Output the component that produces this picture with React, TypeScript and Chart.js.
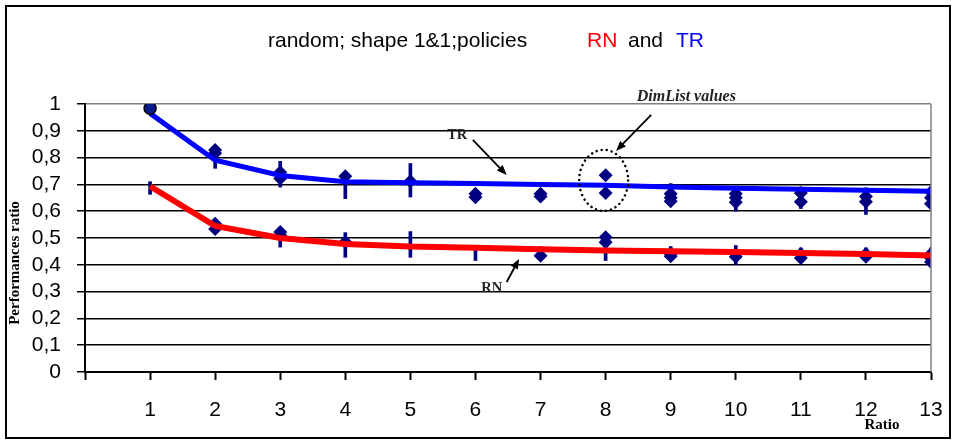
import React, { useEffect, useRef } from 'react';
import { Chart, registerables } from 'chart.js';

Chart.register(...registerables);

// ---- data ----
const ratios = [1, 2, 3, 4, 5, 6, 7, 8, 9, 10, 11, 12, 13];
const trCurve = [0.965, 0.79, 0.733, 0.71, 0.706, 0.703, 0.7, 0.697, 0.69, 0.686, 0.682, 0.678, 0.674];
const rnCurve = [0.693, 0.545, 0.5, 0.478, 0.468, 0.464, 0.458, 0.453, 0.451, 0.448, 0.444, 0.44, 0.435];

const trStart = [[1, 0.984]];
const trDiamonds = [
  [2, 0.828], [2, 0.816], [3, 0.745], [3, 0.722], [4, 0.73], [5, 0.712],
  [6, 0.665], [6, 0.652], [7, 0.665], [7, 0.655], [8, 0.734], [8, 0.668],
  [9, 0.665], [9, 0.65], [9, 0.637], [10, 0.665], [10, 0.65], [10, 0.633],
  [11, 0.668], [11, 0.635], [12, 0.655], [12, 0.635], [13, 0.672], [13, 0.65], [13, 0.628],
];
const rnDiamonds = [
  [2, 0.553], [2, 0.534], [3, 0.522], [3, 0.51], [4, 0.485], [7, 0.434],
  [8, 0.503], [8, 0.484], [9, 0.44], [9, 0.432], [10, 0.44], [10, 0.43],
  [11, 0.44], [11, 0.425], [12, 0.44], [12, 0.43], [13, 0.44], [13, 0.425], [13, 0.41],
];
// value ranges (low, high) shown as vertical dashes
const trRanges = [
  [2, 0.76, 0.8], [3, 0.69, 0.786], [4, 0.647, 0.73], [5, 0.653, 0.778],
  [9, 0.64, 0.703], [10, 0.6, 0.685], [11, 0.61, 0.69], [12, 0.588, 0.687], [13, 0.62, 0.69],
];
const rnRanges = [
  [1, 0.663, 0.71], [3, 0.466, 0.503], [4, 0.428, 0.52], [5, 0.428, 0.524],
  [6, 0.416, 0.466], [7, 0.434, 0.468], [8, 0.416, 0.484], [9, 0.43, 0.468],
  [10, 0.4, 0.472], [11, 0.42, 0.463], [12, 0.42, 0.463], [13, 0.41, 0.463],
];
const yTicks = [0, 0.1, 0.2, 0.3, 0.4, 0.5, 0.6, 0.7, 0.8, 0.9, 1];

const titleMain = 'random; shape 1&1;policies';
const titleRN = 'RN';
const titleAnd = 'and';
const titleTR = 'TR';
const yTitle = 'Performances ratio';
const xTitle = 'Ratio';
const noteDim = 'DimList values';
const noteTR = 'TR';
const noteRN = 'RN';

const NAVY = '#000080';

const pts = (arr: number[][]) => arr.map(([x, y]) => ({ x, y }));
const rng = (arr: number[][]) => arr.map(([x, lo, hi]) => ({ x, y: [lo, hi] }));

function drawArrow(ctx: CanvasRenderingContext2D, x1: number, y1: number, x2: number, y2: number) {
  const ang = Math.atan2(y2 - y1, x2 - x1);
  const hl = 10, hw = 4;
  ctx.save();
  ctx.strokeStyle = '#000';
  ctx.fillStyle = '#000';
  ctx.lineWidth = 1.8;
  ctx.beginPath();
  ctx.moveTo(x1, y1);
  ctx.lineTo(x2 - Math.cos(ang) * hl * 0.8, y2 - Math.sin(ang) * hl * 0.8);
  ctx.stroke();
  ctx.beginPath();
  ctx.moveTo(x2, y2);
  ctx.lineTo(x2 - Math.cos(ang) * hl + Math.sin(ang) * hw, y2 - Math.sin(ang) * hl - Math.cos(ang) * hw);
  ctx.lineTo(x2 - Math.cos(ang) * hl - Math.sin(ang) * hw, y2 - Math.sin(ang) * hl + Math.cos(ang) * hw);
  ctx.closePath();
  ctx.fill();
  ctx.restore();
}

const decorPlugin = {
  id: 'decor',
  afterDraw(chart: any) {
    const ctx: CanvasRenderingContext2D = chart.ctx;
    const xs = chart.scales.x;
    const ys = chart.scales.y;
    const ca = chart.chartArea;
    const px = (v: number) => xs.getPixelForValue(v);
    const py = (v: number) => ys.getPixelForValue(v);
    ctx.save();
    // outer frame
    ctx.strokeStyle = '#000';
    ctx.lineWidth = 2;
    ctx.strokeRect(6, 6, 944, 432);
    // right plot border
    ctx.strokeStyle = '#808080';
    ctx.lineWidth = 1.5;
    ctx.beginPath();
    ctx.moveTo(ca.right, ca.top);
    ctx.lineTo(ca.right, ca.bottom);
    ctx.stroke();

    // title
    ctx.textBaseline = 'middle';
    ctx.textAlign = 'left';
    ctx.font = '21px "Liberation Sans", Arial, sans-serif';
    ctx.fillStyle = '#000';
    ctx.fillText(titleMain, 268, 41);
    ctx.fillStyle = '#FF0000';
    ctx.fillText(titleRN, 587, 41);
    ctx.fillStyle = '#000';
    ctx.fillText(titleAnd, 628, 41);
    ctx.fillStyle = '#0000FF';
    ctx.fillText(titleTR, 676, 41);

    // axis titles
    ctx.fillStyle = '#000';
    ctx.font = 'bold 15px "Liberation Serif", "Times New Roman", serif';
    ctx.textAlign = 'center';
    ctx.fillText(xTitle, 882, 425);
    ctx.save();
    ctx.translate(15, 263);
    ctx.rotate(-Math.PI / 2);
    ctx.fillText(yTitle, 0, 0);
    ctx.restore();

    // annotations
    ctx.fillStyle = '#222';
    ctx.font = 'bold 14.5px "Liberation Serif", "Times New Roman", serif';
    ctx.fillText(noteTR, px(5.72), py(0.884));
    ctx.fillText(noteRN, px(6.25), py(0.313));
    ctx.font = 'italic bold 16px "Liberation Serif", "Times New Roman", serif';
    ctx.fillText(noteDim, px(9.24), py(1.026));
    drawArrow(ctx, px(5.96), py(0.866), px(6.48), py(0.735));
    drawArrow(ctx, px(6.48), py(0.336), px(6.67), py(0.422));
    drawArrow(ctx, px(8.7), py(0.959), px(8.16), py(0.825));

    // dotted ellipse
    ctx.strokeStyle = '#000';
    ctx.lineWidth = 2.5;
    ctx.lineCap = 'round';
    ctx.setLineDash([0.1, 5]);
    ctx.beginPath();
    const cx = px(7.97), cy = py(0.715);
    const rx = px(7.97 + 0.376) - cx, ry = cy - py(0.715 + 0.114);
    ctx.ellipse(cx, cy, rx, ry, 0, 0, Math.PI * 2);
    ctx.stroke();
    ctx.restore();
  },
};

export default function App() {
  const ref = useRef<HTMLCanvasElement | null>(null);
  useEffect(() => {
    if (!ref.current) return;
    const chart = new Chart(ref.current, {
      type: 'scatter',
      data: {
        datasets: [
          {
            type: 'scatter',
            data: pts(trStart),
            pointStyle: 'circle',
            pointRadius: 6,
            backgroundColor: '#0a1a8a',
            borderColor: '#000',
            borderWidth: 1.5,
            order: -1,
          } as any,
          {
            type: 'line',
            data: ratios.map((x, i) => ({ x, y: trCurve[i] })),
            borderColor: '#0000FF',
            borderWidth: 5,
            pointRadius: 0,
            fill: false,
            order: 0,
          } as any,
          {
            type: 'line',
            data: ratios.map((x, i) => ({ x, y: rnCurve[i] })),
            borderColor: '#FF0000',
            borderWidth: 6,
            pointRadius: 0,
            fill: false,
            order: 0,
          } as any,
          {
            type: 'scatter',
            data: pts(trDiamonds),
            pointStyle: 'rectRot',
            pointRadius: 7,
            backgroundColor: NAVY,
            borderColor: NAVY,
            borderWidth: 0,
            order: 1,
          } as any,
          {
            type: 'scatter',
            data: pts(rnDiamonds),
            pointStyle: 'rectRot',
            pointRadius: 7,
            backgroundColor: NAVY,
            borderColor: NAVY,
            borderWidth: 0,
            order: 1,
          } as any,
          {
            type: 'bar',
            data: rng(trRanges),
            backgroundColor: NAVY,
            barThickness: 3,
            grouped: false,
            order: 2,
          } as any,
          {
            type: 'bar',
            data: rng(rnRanges),
            backgroundColor: NAVY,
            barThickness: 3,
            grouped: false,
            order: 2,
          } as any,
        ],
      },
      options: {
        responsive: false,
        animation: false,
        events: [],
        layout: { autoPadding: false, padding: { top: 104, right: 24, bottom: 0, left: 0 } },
        plugins: {
          legend: { display: false },
          title: { display: false },
          tooltip: { enabled: false },
        },
        scales: {
          x: {
            type: 'linear',
            min: 0,
            max: 13,
            offset: false,
            afterFit: (s: any) => { s.height = 71; s.paddingLeft = 0; s.paddingRight = 0; },
            afterBuildTicks: (s: any) => { s.ticks = [0, ...ratios].map((v) => ({ value: v })); },
            ticks: {
              stepSize: 1,
              color: '#000',
              padding: 18,
              font: { family: '"Liberation Sans", Arial, sans-serif', size: 21 },
              callback: (v: any) => (v === 0 ? '' : String(v)),
              maxRotation: 0,
              autoSkip: false,
            },
            grid: {
              offset: false,
              drawOnChartArea: false,
              drawTicks: true,
              tickLength: 8,
              tickColor: '#000',
              tickWidth: 2,
            },
            border: { color: '#000', width: 2 },
          },
          y: {
            type: 'linear',
            min: 0,
            max: 1,
            afterFit: (s: any) => { s.width = 85; s.paddingTop = 0; s.paddingBottom = 0; },
            afterBuildTicks: (s: any) => { s.ticks = yTicks.map((v) => ({ value: v })); },
            ticks: {
              color: '#000',
              padding: 16,
              autoSkip: false,
              font: { family: '"Liberation Sans", Arial, sans-serif', size: 21 },
              callback: (v: any) => {
                const r = Math.round(v * 10) / 10;
                return r === 0 ? '0' : r === 1 ? '1' : r.toFixed(1).replace('.', ',');
              },
            },
            grid: {
              color: (c: any) => (c.tick && Math.abs(c.tick.value - 1) < 1e-6 ? '#808080' : '#000'),
              lineWidth: 1.5,
              tickLength: 8,
              tickColor: '#000',
              tickWidth: 1.5,
            },
            border: { color: '#000', width: 2 },
          },
        },
      } as any,
      plugins: [decorPlugin],
    });
    return () => chart.destroy();
  }, []);
  return (
    <div style={{ position: 'absolute', left: 0, top: 0, width: 955, height: 443, background: '#fff' }}>
      <canvas ref={ref} width={955} height={443} style={{ display: 'block' }} />
    </div>
  );
}
